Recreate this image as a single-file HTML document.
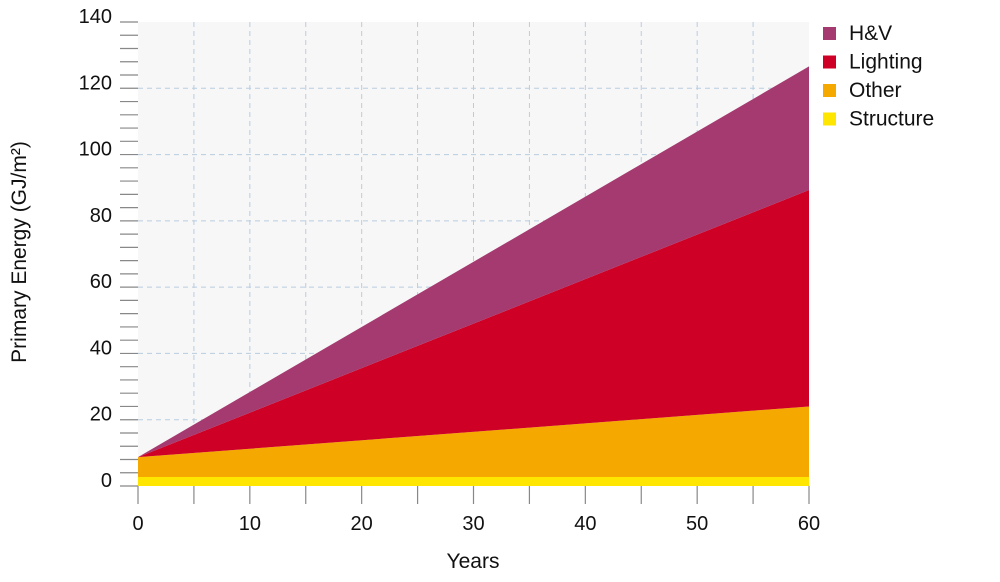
<!DOCTYPE html>
<html><head><meta charset="utf-8"><style>
body{margin:0;background:#fff;}
svg text{font-family:"Liberation Sans",sans-serif;fill:#111;}
</style></head><body>
<svg id="chart" width="1000" height="577" xmlns="http://www.w3.org/2000/svg">
<g id="grid"></g><g id="areas"></g><g id="axes"></g><g id="legend"></g>
</svg>
<script>
const years=[0,60];
const structure=[2.7,2.7];
const other=[6,21.3];
const lighting=[0,65.3];
const hv=[0,37.3];
const yTicks=[0,20,40,60,80,100,120,140];
const xTicks=[0,10,20,30,40,50,60];
const seriesNames=["H&V","Lighting","Other","Structure"];
const colors={"H&V":"#a43a70","Lighting":"#cf0025","Other":"#f4a800","Structure":"#ffe600"};
const NS="http://www.w3.org/2000/svg";
const X0=138,X1=809,Y0=486,Y1=22;
const xs=v=>X0+(v-0)/(60-0)*(X1-X0);
const ys=v=>Y0-(v-0)/(140-0)*(Y0-Y1);
function mk(tag,attrs,parent){const e=document.createElementNS(NS,tag);for(const k in attrs)e.setAttribute(k,attrs[k]);document.getElementById(parent).appendChild(e);return e;}
// background
let bg=mk('rect',{x:X0,y:Y1,width:X1-X0,height:Y0-Y1,fill:'#f7f7f7'},'grid');


for(let v=5;v<60;v+=5){let l=mk('line',{x1:xs(v),x2:xs(v),y1:Y1,y2:Y0,stroke:'#b9cde0','stroke-dasharray':'5,4','stroke-width':1},'grid');

}
yTicks.forEach(v=>{if(v===0||v===140)return;let l=mk('line',{x1:X0,x2:X1,y1:ys(v),y2:ys(v),stroke:'#b9cde0','stroke-dasharray':'5,4','stroke-width':1},'grid');

});
// stacked areas
const stack=[["Structure",structure],["Other",other],["Lighting",lighting],["H&V",hv]];
let base=years.map(()=>0);
stack.forEach(([name,vals])=>{
 const top=vals.map((v,i)=>base[i]+v);
 let pts=years.map((y,i)=>xs(y)+','+ys(top[i]));
 for(let i=years.length-1;i>=0;i--)pts.push(xs(years[i])+','+ys(base[i]));
 let p=mk('polygon',{points:pts.join(' '),fill:colors[name]},'areas');
 
 
 base=top;
});
// y ticks
for(let v=0;v<=140;v+=4){let t=mk('line',{x1:120,x2:138,y1:ys(v),y2:ys(v),stroke:'#888','stroke-width':1.2},'axes');

}
yTicks.forEach(v=>{let t=mk('text',{x:112,y:ys(v)+1,'text-anchor':'end','font-size':20},'axes');t.textContent=v;

});
for(let v=0;v<=60;v+=5){let t=mk('line',{x1:xs(v),x2:xs(v),y1:Y0,y2:Y0+18,stroke:'#888','stroke-width':1.2},'axes');

}
xTicks.forEach(v=>{let t=mk('text',{x:xs(v),y:530,'text-anchor':'middle','font-size':20},'axes');t.textContent=v;

});
let xt=mk('text',{x:473,y:568,'text-anchor':'middle','font-size':21},'axes');xt.textContent='Years';


let yt=mk('text',{x:0,y:0,'text-anchor':'middle','font-size':21,transform:'translate(26,252) rotate(-90)'},'axes');yt.textContent='Primary Energy (GJ/m²)';


seriesNames.forEach((n,i)=>{
 let r=mk('rect',{x:823,y:27+i*28.5,width:13,height:13,fill:colors[n]},'legend');
 
 
 let t=mk('text',{x:849,y:40+i*28.5,'font-size':21},'legend');t.textContent=n;
 
 
});
</script>
</body></html>
